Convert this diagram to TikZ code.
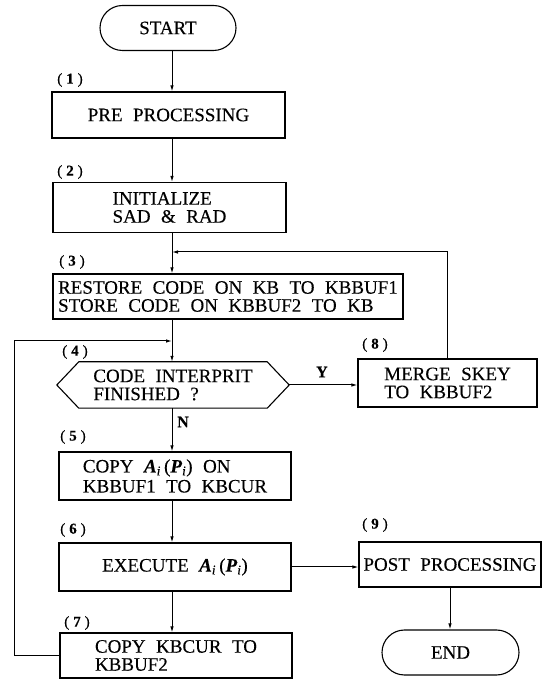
\documentclass[tikz,border=0pt]{standalone}
\usepackage{fontspec}
\setmainfont{Liberation Serif}[WordSpace=2.2,FakeBold=0.25]
\usetikzlibrary{arrows.meta,shapes.misc,calc}
\newcommand{\Ai}{\textbf{\textit{A}}\textsubscript{\textit{i}}\,(\textbf{\textit{P}}\textsubscript{\textit{i}})}
\newcommand{\numlab}[1]{(\hspace{4pt}\textbf{#1}\hspace{4pt})}
\begin{document}
\begin{tikzpicture}[x=1pt,y=1pt,
  txt/.style={inner sep=0pt,align=left,font=\fontsize{19}{18}\selectfont},
  box/.style={txt,draw,line width=1.1pt,rectangle},
  term/.style={txt,draw,line width=1.1pt,rounded rectangle,minimum width=136pt,minimum height=45pt},
  num/.style={inner sep=0pt,font=\fontsize{15}{15}\selectfont},
  yn/.style={inner sep=0pt,font=\fontsize{16}{16}\selectfont\bfseries},
  flow/.style={line width=1pt,-{Latex[length=6pt,width=3.5pt]}}]
\useasboundingbox (0,0) rectangle (541,679);
\coordinate (mx) at (172,0);
\coordinate (lx) at (14,0);
\node[term] (start) at (168,651) {START};
\node[box,minimum width=233pt,minimum height=46pt] (pre) at (168.5,564) {PRE PROCESSING};
\node[box,minimum width=233pt,minimum height=50pt] (init) at (169.5,471.5) {INITIALIZE\\SAD \& RAD};
\node[box,minimum width=350pt,minimum height=45pt] (rest) at (228,382.5) {RESTORE CODE ON KB TO KBBUF1\\STORE CODE ON KBBUF2 TO KB};
\node[txt,minimum width=232pt,minimum height=46pt] (dec) at (173,294) {CODE INTERPRIT\\FINISHED ?};
\draw[line width=1.1pt] (dec.west) -- ($(dec.north west)+(22,0)$) -- ($(dec.north east)+(-22,0)$) -- (dec.east) -- ($(dec.south east)+(-22,0)$) -- ($(dec.south west)+(22,0)$) -- cycle;
\node[box,minimum width=179pt,minimum height=48pt] (merge) at (447.5,296) {MERGE SKEY\\TO KBBUF2};
\node[box,minimum width=232pt,minimum height=48pt] (copy) at (175,203) {COPY \Ai{} ON\\[2pt]KBBUF1 TO KBCUR};
\node[box,minimum width=232pt,minimum height=48pt] (exec) at (175,112) {EXECUTE \Ai};
\node[box,minimum width=182pt,minimum height=45pt] (post) at (450,114.5) {POST PROCESSING};
\node[term,minimum width=137pt] (end) at (450.5,26.5) {END};
\node[box,minimum width=232pt,minimum height=45pt] (kb2) at (176,23.5) {COPY KBCUR TO\\KBBUF2};
\node[num] (n1) at (70,599) {\numlab{1}};
\node[num] (n2) at (70,507) {\numlab{2}};
\node[num] (n3) at (72,417) {\numlab{3}};
\node[num] (n4) at (75,327) {\numlab{4}};
\node[num] (n5) at (73,242) {\numlab{5}};
\node[num] (n6) at (73,149) {\numlab{6}};
\node[num] (n7) at (77,56) {\numlab{7}};
\node[num] (n8) at (375,334) {\numlab{8}};
\node[num] (n9) at (375,154) {\numlab{9}};
\node[yn] (Y) at (322,307) {Y};
\node[yn] (N) at (183,257) {N};
\coordinate (j1) at (172,427);
\coordinate (j2) at (172,338);
\draw[flow] (start.south -| mx) -- (pre.north -| mx);
\draw[flow] (pre.south -| mx) -- (init.north -| mx);
\draw[flow] (init.south -| mx) -- (rest.north -| mx);
\draw[flow] (merge.north) |- (j1);
\draw[flow] (rest.south -| mx) -- (dec.north -| mx);
\draw[flow] (kb2.west) -- (kb2.west -| lx) -- (lx |- j2) -- (j2);
\draw[flow] (dec.east) -- (merge.west |- dec.east);
\draw[flow] (dec.south -| mx) -- (copy.north -| mx);
\draw[flow] (copy.south -| mx) -- (exec.north -| mx);
\draw[flow] (exec.south -| mx) -- (kb2.north -| mx);
\draw[flow] (exec.east) -- (exec.east -| post.west);
\draw[flow] (post.south) -- (post.south |- end.north);
\end{tikzpicture}
\end{document}
